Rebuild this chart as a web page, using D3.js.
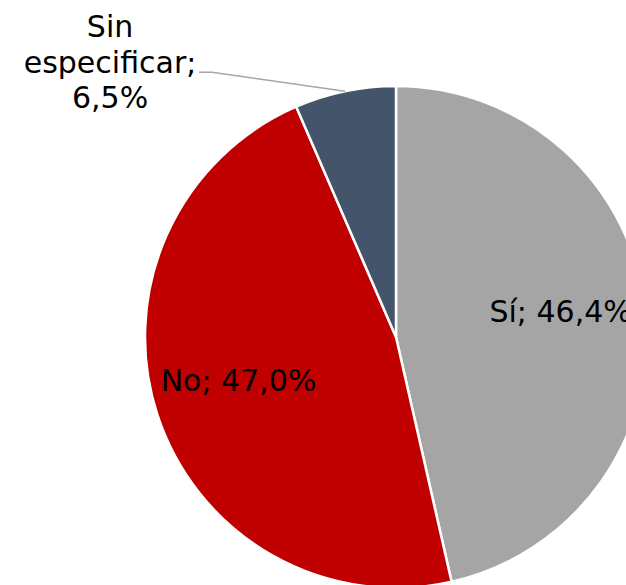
<!DOCTYPE html>
<html>
<head>
<meta charset="utf-8">
<script src="https://cdn.jsdelivr.net/npm/d3@7"></script>
<style>
  html, body { margin: 0; padding: 0; background: #fff; }
  svg text { font-family: Verdana, "DejaVu Sans", sans-serif; fill: #000; }
</style>
</head>
<body>
<div id="chart"></div>
<script>
const categories = ["Sí", "No", "Sin especificar"];
const values = [46.4, 47.0, 6.5];
const colors = ["#A5A5A5", "#C00000", "#44546A"];

const width = 626;
const height = 585;
const cx = 396, cy = 337;
const radius = 251;

const svg = d3.select("#chart")
    .append("svg")
    .attr("width", width)
    .attr("height", height)
    .attr("viewBox", `0 0 ${width} ${height}`);

const g = svg.append("g").attr("transform", `translate(${cx},${cy})`);

const pie = d3.pie().sort(null).value(d => d.value);
const arcs = pie(categories.map((c, i) => ({name: c, value: values[i], color: colors[i]})));

const arc = d3.arc().innerRadius(0).outerRadius(radius);
const labelArc = d3.arc().innerRadius(radius * 0.66).outerRadius(radius * 0.66);
const edgeArc = d3.arc().innerRadius(radius).outerRadius(radius);

g.selectAll("path.slice")
  .data(arcs)
  .enter()
  .append("path")
  .attr("class", "slice")
  .attr("d", arc)
  .attr("fill", d => d.data.color)
  .attr("stroke", "#fff")
  .attr("stroke-width", 2.5)
  .attr("stroke-linejoin", "miter");

const fmt = v => v.toFixed(1).replace(".", ",") + "%";

// inside labels for the two big slices
g.selectAll("text.inside")
  .data(arcs.filter(d => d.data.value > 20))
  .enter()
  .append("text")
  .attr("class", "inside")
  .attr("transform", d => `translate(${labelArc.centroid(d)})`)
  .attr("text-anchor", "middle")
  .attr("dy", "0.1em")
  .attr("font-size", "30px")
  .text(d => `${d.data.name}; ${fmt(d.data.value)}`);

// outside label with leader line for the small slice
const small = arcs.filter(d => d.data.value <= 20);
small.forEach(d => {
  const [ex, ey] = edgeArc.centroid(d);
  const elbow = [ex - 133, ey - 19];
  const start = [elbow[0] - 13, elbow[1]];
  g.append("polyline")
    .attr("points", [[ex, ey], elbow, start].map(p => p.join(",")).join(" "))
    .attr("fill", "none")
    .attr("stroke", "#A6A6A6")
    .attr("stroke-width", 1.5);

  const tx = start[0] - 89;
  const lines = ["Sin", "especificar;", fmt(d.data.value)];
  const t = g.append("text")
    .attr("text-anchor", "middle")
    .attr("font-size", "30px");
  lines.forEach((l, i) => {
    t.append("tspan")
      .attr("x", tx)
      .attr("y", elbow[1] - 35 + i * 35.5)
      .text(l);
  });
});
</script>
</body>
</html>
